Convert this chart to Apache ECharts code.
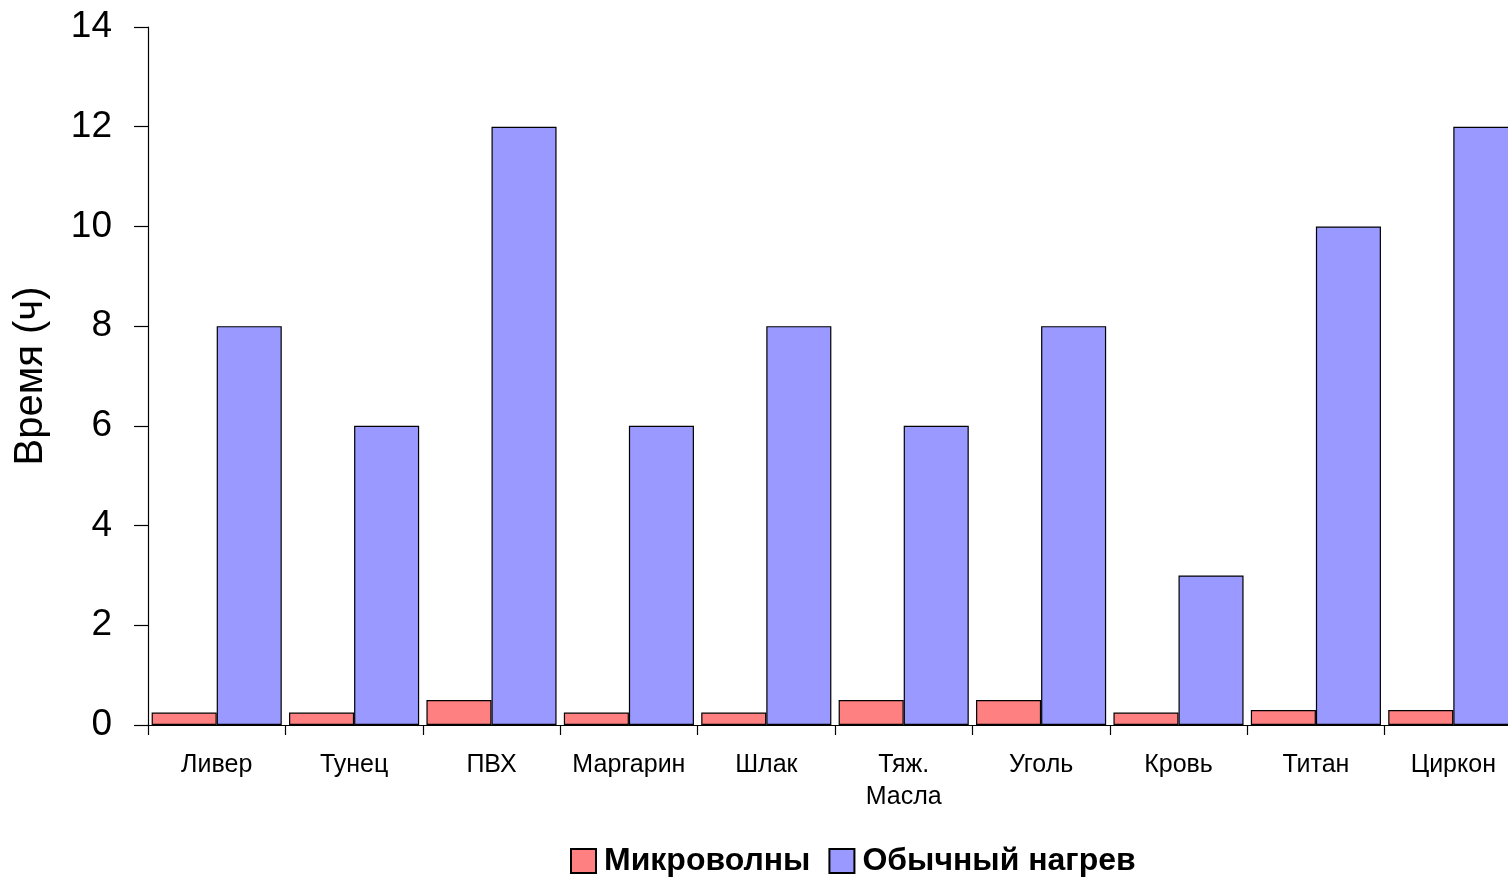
<!DOCTYPE html>
<html>
<head>
<meta charset="utf-8">
<script src="https://cdn.jsdelivr.net/npm/echarts@6/dist/echarts.min.js"></script>
<style>
  html, body { margin: 0; padding: 0; background: #fff; overflow: hidden; }
  #chart { width: 1530px; height: 877px; }
</style>
</head>
<body>
<div id="chart"></div>
<script>
// Materials processed
const categories = ['Ливер', 'Тунец', 'ПВХ', 'Маргарин', 'Шлак', 'Тяж.\nМасла', 'Уголь', 'Кровь', 'Титан', 'Циркон'];
// Processing time, hours
const microwave = [0.25, 0.25, 0.5, 0.25, 0.25, 0.5, 0.5, 0.25, 0.3, 0.3];
const conventional = [8, 6, 12, 6, 8, 6, 8, 3, 10, 12];
const seriesNames = ['Микроволны', 'Обычный нагрев'];
const yTicks = { min: 0, max: 14, interval: 2 };

const font = '"Liberation Sans", Arial, sans-serif';
const chart = echarts.init(document.getElementById('chart'), null, { renderer: 'canvas' });

chart.setOption({
  backgroundColor: '#ffffff',
  animation: false,
  textStyle: { fontFamily: font, color: '#000' },
  // plot runs slightly past the right edge of the visible page
  grid: { left: 148, top: 27, width: 1374, height: 698, containLabel: false },
  legend: {
    left: 565,
    top: 840,
    itemGap: 18,
    itemWidth: 25,
    itemHeight: 24,
    textStyle: { fontFamily: font, fontSize: 32, fontWeight: 'bold', color: '#000', padding: [0, 0, 0, 3] },
    data: seriesNames.map(n => ({ name: n, icon: 'rect' }))
  },
  xAxis: {
    type: 'category',
    data: categories,
    axisLine: { lineStyle: { color: '#000', width: 1.2 } },
    axisTick: { show: true, length: 10, lineStyle: { color: '#000', width: 1.2 } },
    axisLabel: { color: '#000', fontFamily: font, fontSize: 25, margin: 24, lineHeight: 32, interval: 0 }
  },
  yAxis: {
    type: 'value',
    min: yTicks.min, max: yTicks.max, interval: yTicks.interval,
    name: 'Время (ч)',
    nameLocation: 'middle',
    nameGap: 97,
    nameTextStyle: { fontFamily: font, fontSize: 40, color: '#000' },
    splitLine: { show: false },
    axisLine: { show: true, lineStyle: { color: '#000', width: 1.2 } },
    axisTick: { show: true, length: 14, lineStyle: { color: '#000', width: 1.2 } },
    axisLabel: { color: '#000', fontFamily: font, fontSize: 37, margin: 36 }
  },
  series: [
    {
      name: seriesNames[0],
      type: 'bar',
      data: microwave,
      barGap: '0%',
      barCategoryGap: '5.3%',
      itemStyle: { color: '#FF8080', borderColor: '#000', borderWidth: 1.2 }
    },
    {
      name: seriesNames[1],
      type: 'bar',
      data: conventional,
      barGap: '0%',
      barCategoryGap: '5.3%',
      itemStyle: { color: '#9999FF', borderColor: '#000', borderWidth: 1.2 }
    }
  ]
});
</script>
</body>
</html>
